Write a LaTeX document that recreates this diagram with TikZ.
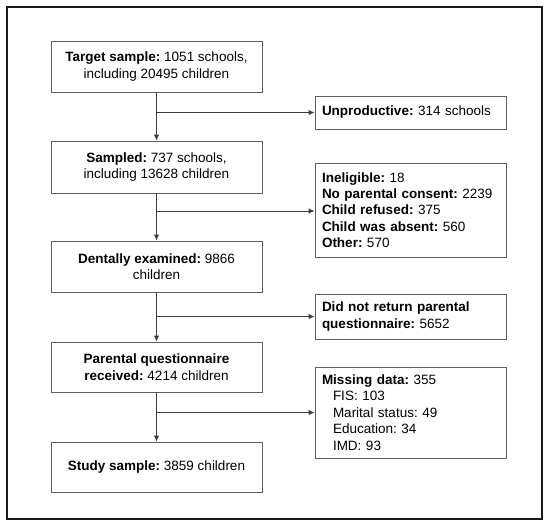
\documentclass[tikz,border=0pt]{standalone}
\usepackage{fontspec}
\setmainfont{Liberation Sans}
\usetikzlibrary{arrows.meta}
\definecolor{boxgray}{RGB}{95,95,95}
\definecolor{linegray}{RGB}{60,60,60}
\definecolor{framecol}{RGB}{25,25,25}
\frenchspacing
\begin{document}
\begin{tikzpicture}[x=1pt,y=-1pt,
  box/.style={draw=boxgray, line width=0.9pt, inner ysep=0pt,
    font=\fontsize{13.5}{16.4}\selectfont},
  lbox/.style={box, inner xsep=0pt, minimum width=211pt, align=center},
  rbox/.style={box, inner xsep=7pt, text width=177pt, align=left},
  arr/.style={draw=linegray, line width=0.9pt, -{Latex[length=6pt,width=5.5pt]}}]
\useasboundingbox (0,0) rectangle (550,525);
\draw[framecol, line width=1.4pt] (7,7) rectangle (542,519);

\node[lbox, minimum height=51pt] (b1) at (156.5,66.5)
  {\textbf{Target sample:} 1051 schools,\\including 20495 children};
\node[lbox, minimum height=52pt] (b2) at (156.5,167)
  {\textbf{Sampled:} 737 schools,\\including 13628 children};
\node[lbox, minimum height=51pt] (b3) at (156.5,266.5)
  {\textbf{Dentally examined:} 9866\\children};
\node[lbox, minimum height=50pt] (b4) at (156.5,367)
  {\textbf{Parental questionnaire}\\\textbf{received:} 4214 children};
\node[lbox, minimum height=50pt] (b5) at (156.5,467)
  {\textbf{Study sample:} 3859 children};

\node[rbox, minimum height=33pt] (r1) at (410.5,112.5)
  {\textbf{Unproductive:} 314 schools};
\node[rbox, minimum height=94pt] (r2) at (410.5,210)
  {\textbf{Ineligible:} 18\\
   \textbf{No parental consent:} 2239\\
   \textbf{Child refused:} 375\\
   \textbf{Child was absent:} 560\\
   \textbf{Other:} 570};
\node[rbox, minimum height=45pt] (r3) at (410.5,316.5)
  {\textbf{Did not return parental}\\\textbf{questionnaire:} 5652};
\node[rbox, minimum height=91pt] (r4) at (410.5,412.5)
  {\textbf{Missing data:} 355\\
   \hspace*{11pt}FIS: 103\\
   \hspace*{11pt}Marital status: 49\\
   \hspace*{11pt}Education: 34\\
   \hspace*{11pt}IMD: 93};

\draw[arr] (b1) -- (b2);
\draw[arr] (b2) -- (b3);
\draw[arr] (b3) -- (b4);
\draw[arr] (b4) -- (b5);

\draw[arr] (b1.south |- r1.west) -- (r1.west);
\draw[arr] (b2.south |- 0,211) -- (r2.west |- 0,211);
\draw[arr] (b3.south |- r3.west) -- (r3.west);
\draw[arr] (b4.south |- r4.west) -- (r4.west);
\end{tikzpicture}
\end{document}
